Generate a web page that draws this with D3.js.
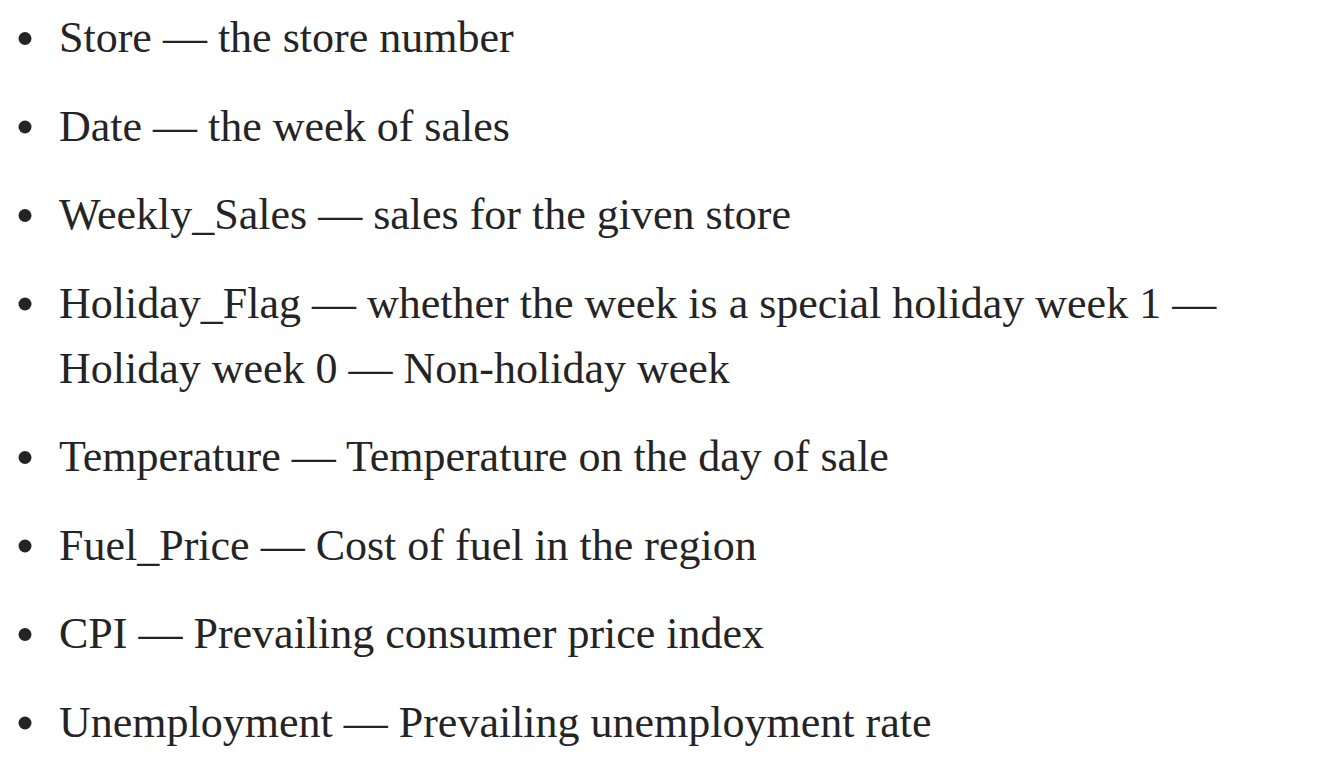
<!DOCTYPE html>
<html>
<head>
<meta charset="utf-8">
<script src="https://cdn.jsdelivr.net/npm/d3@7/dist/d3.min.js"></script>
<style>
  html, body { margin: 0; padding: 0; background: #ffffff; }
  svg { display: block; }
</style>
</head>
<body>
<script>
// ---- data ----
const fields = ["Store", "Date", "Weekly_Sales", "Holiday_Flag", "Temperature", "Fuel_Price", "CPI", "Unemployment"];
const descriptions = [
  ["the store number"],
  ["the week of sales"],
  ["sales for the given store"],
  ["whether the week is a special holiday week 1 \u2014", "Holiday week 0 \u2014 Non-holiday week"],
  ["Temperature on the day of sale"],
  ["Cost of fuel in the region"],
  ["Prevailing consumer price index"],
  ["Prevailing unemployment rate"]
];

// ---- layout ----
const W = 1344, H = 782;
const fontFamily = "'Liberation Serif', 'Times New Roman', serif";
const fontSize = 44;
const ink = "#242424";
const textX = 59, bulletX = 25, bulletR = 6.5;
const firstBaseline = 52, itemGap = 88.5, wrapGap = 65;

const items = fields.map((f, i) => ({ field: f, lines: descriptions[i] }));
let extra = 0;
items.forEach((d, i) => {
  d.baseline = firstBaseline + i * itemGap + extra * wrapGap;
  extra += d.lines.length - 1;
});

const svg = d3.select("body").append("svg")
  .attr("width", W).attr("height", H)
  .attr("viewBox", `0 0 ${W} ${H}`);

const g = svg.selectAll("g.item").data(items).join("g").attr("class", "item");

g.append("circle")
  .attr("cx", bulletX)
  .attr("cy", d => d.baseline - 13.5)
  .attr("r", bulletR)
  .attr("fill", ink);

const t = g.append("text")
  .attr("x", textX)
  .attr("y", d => d.baseline)
  .attr("font-family", fontFamily)
  .attr("font-size", fontSize)
  .attr("fill", ink);

t.selectAll("tspan")
  .data(d => d.lines.map((ln, j) => ({ text: j === 0 ? d.field + " \u2014 " + ln : ln, j })))
  .join("tspan")
  .attr("x", textX)
  .attr("dy", d => d.j === 0 ? 0 : wrapGap)
  .text(d => d.text);
</script>
</body>
</html>
